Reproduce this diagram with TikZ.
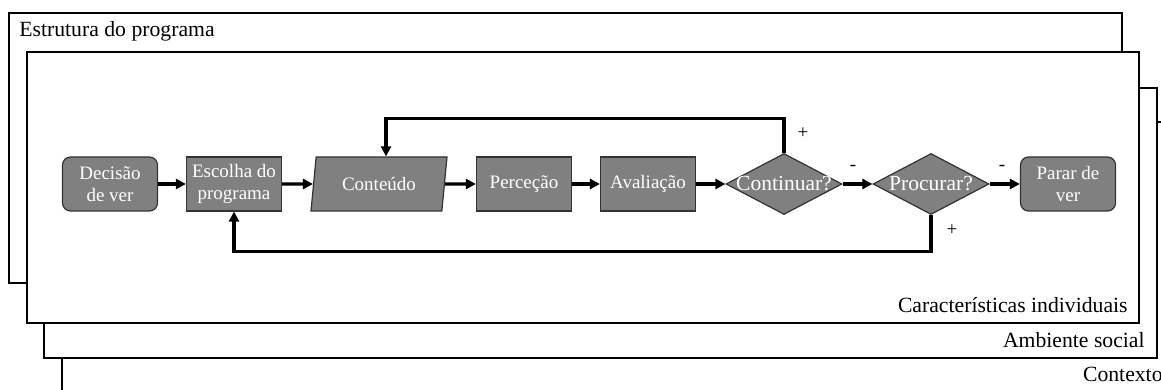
\documentclass[tikz,border=0pt]{standalone}
\usepackage{fontspec}
\setmainfont{Liberation Serif}
\usetikzlibrary{arrows.meta,shapes.geometric}

\begin{document}
\begin{tikzpicture}[x=50pt,y=50pt,
    frame/.style={draw=black,line width=1.2pt,fill=white},
    framelabel/.style={font=\fontsize{10.85}{13}\selectfont,inner sep=0pt},
    procbox/.style={draw=black!80,line width=0.6pt,fill=black!50,text=white,align=center,
        font=\fontsize{9.5}{11}\selectfont,minimum width=47.5pt,minimum height=27pt,inner sep=1pt},
    roundbox/.style={procbox,rounded corners=4pt},
    decision/.style={diamond,draw=black!80,line width=0.6pt,fill=black!50,text=white,
        font=\fontsize{10.75}{12}\selectfont,minimum width=58pt,minimum height=30.5pt,inner sep=0pt},
    flowarrow/.style={line width=1.6pt,-{Triangle[length=5pt,width=5pt]}},
    sign/.style={font=\fontsize{9.5}{11}\selectfont,inner sep=0pt}]

    \useasboundingbox (0,0) rectangle (11.61,3.90);
    \clip (0,0) rectangle (11.61,3.90);

    % contexto (outermost, cut by the page)
    \draw[frame] (0.62,-0.10) rectangle (11.75,2.68);

    % ambiente social
    \draw[frame] (0.44,0.32) rectangle (11.57,3.02);

    % estrutura do programa
    \draw[frame] (0.09,1.07) rectangle (11.22,3.77);

    % caracteristicas individuais (on top)
    \draw[frame] (0.27,0.67) rectangle (11.39,3.38);

    %%%%%%%%%%%%%%%%%%%%%%%%%%%%%%%%%%%%%%%%%%%%%%%%%%%%%%

    % start and choice
    \node[roundbox] (dec) at (1.10,2.06) {Decisão\\de ver};
    \node[procbox] (esc) at (2.34,2.06) {Escolha do\\programa};
    \draw[flowarrow] (dec.east) to (esc.west);

    % content
    \node[trapezium,trapezium left angle=73.5,trapezium right angle=106.5,
        trapezium stretches body,procbox,minimum width=68pt] (cont) at (3.79,2.06) {Conteúdo};
    \draw[flowarrow] (esc.east) to (cont.west);

    % perception and evaluation
    \node[procbox] (perc) at (5.24,2.06) {Perceção};
    \draw[flowarrow] (cont.east) to (perc.west);
    \node[procbox] (aval) at (6.48,2.06) {Avaliação};
    \draw[flowarrow] (perc.east) to (aval.west);

    %%%%%%%%%%%%%%%%%%%%%%%%%%%%%%%%%%%%%%%%%%%%%%%%%%%%%%

    % decisions
    \node[decision] (contq) at (7.84,2.06) {\makebox[0pt]{Continuar?}};
    \draw[flowarrow] (aval.east) to (contq.west);
    \node[decision] (procq) at (9.31,2.06) {\makebox[0pt]{Procurar?}};
    \draw[flowarrow] (contq.east) to (procq.west);

    % stop
    \node[roundbox] (parar) at (10.68,2.06) {Parar de\\ver};
    \draw[flowarrow] (procq.east) to (parar.west);

    % feedback loops
    \draw[flowarrow] (contq.north) -- ++(0,0.345) -| ([xshift=3.5pt]cont.north);
    \draw[flowarrow] (procq.south) -- ++(0,-0.365) -| (esc.south);

    % signs
    \node[sign] (plustop) at (8.03,2.57) {+};
    \node[sign] (minusa) at (8.53,2.22) {-};
    \node[sign] (minusb) at (10.02,2.22) {-};
    \node[sign] (plusbot) at (9.52,1.60) {+};

    %%%%%%%%%%%%%%%%%%%%%%%%%%%%%%%%%%%%%%%%%%%%%%%%%%%%%%

    % frame labels
    \node[framelabel,anchor=base west] (lblprog) at (0.19,3.53) {Estrutura do programa};
    \node[framelabel,anchor=base east] (lblind) at (11.28,0.77) {Características individuais};
    \node[framelabel,anchor=base east] (lblsoc) at (11.45,0.42) {Ambiente social};
    \node[framelabel,anchor=base east] (lblctx) at (11.63,0.08) {Contexto};

\end{tikzpicture}
\end{document}
